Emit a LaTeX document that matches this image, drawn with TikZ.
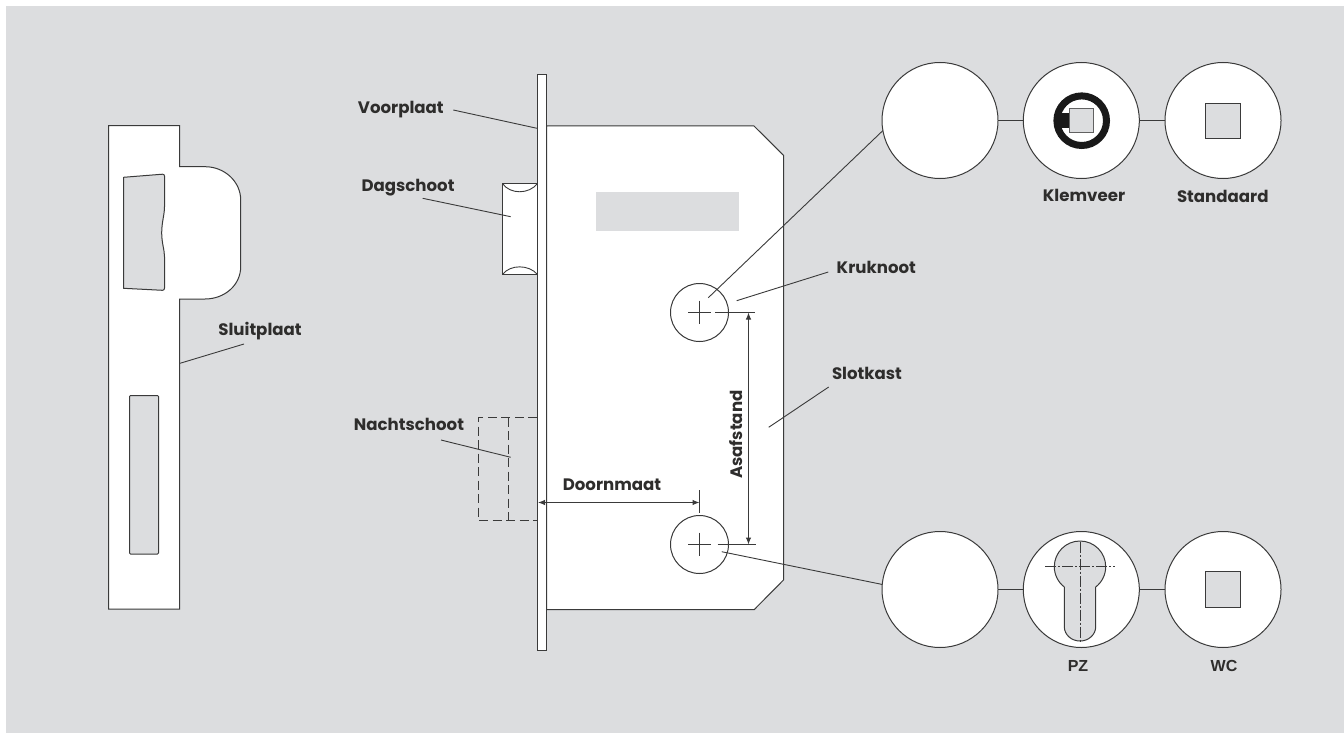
\documentclass[tikz,border=0pt]{standalone}
\usepackage{fontspec}
\setmainfont{Poppins}
\newfontfamily\pzfont{Liberation Sans}
\usetikzlibrary{arrows.meta}
\definecolor{bgc}{HTML}{DCDDDF}
\definecolor{ink}{HTML}{2E2D2C}
\definecolor{ln}{HTML}{3A3A3A}
\tikzset{
  part/.style={draw=ln,line width=1pt,fill=white,line join=miter},
  hollow/.style={draw=ln,line width=1pt,fill=bgc,line join=round},
  leader/.style={draw=ln,line width=0.9pt},
  thin line/.style={draw=ln,line width=0.9pt},
  dashline/.style={draw=ln,line width=1pt,dash pattern=on 9pt off 4.5pt},
  dim/.style={draw=ln,line width=1pt,{Latex[length=7pt,width=5.5pt]}-{Latex[length=7pt,width=5.5pt]}},
  rose/.style={circle,draw=ln,line width=1pt,fill=white,minimum size=116pt,inner sep=0pt,outer sep=0pt},
  hole/.style={circle,draw=ln,line width=1pt,fill=white,minimum size=58pt,inner sep=0pt,outer sep=0pt},
  lab/.style={text=ink,inner sep=0pt,anchor=base,font=\bfseries\fontsize{16.6}{16.6}\selectfont},
  lab2/.style={text=ink,inner sep=0pt,anchor=base,font=\pzfont\bfseries\fontsize{16}{16}\selectfont},
}
\begin{document}
\begin{tikzpicture}[x=1pt,y=-1pt]
\useasboundingbox (0,0) rectangle (1344,733);
\fill[white] (0,0) rectangle (1344,733);
\fill[bgc] (6,6) rectangle (1344,733);

% Sluitplaat
\draw[part] (108.5,125.7) -- (179.5,125.7) -- (179.5,166.7) -- (205,166.7)
  .. controls (224.7,166.7) and (240.7,181.7) .. (240.7,200) -- (240.7,266.7)
  .. controls (240.7,285) and (224.7,299) .. (205,299) -- (179.5,299) -- (179.5,609) -- (108.5,609) -- cycle;
\draw[hollow] (123.5,177.3) -- (162.5,174.2) .. controls (163.8,174.2) and (164.5,175) .. (164.5,176)
  -- (164.5,206.7) .. controls (164.5,215) and (161.7,222) .. (161.7,233)
  .. controls (161.7,243) and (164.5,250) .. (164.5,256.7) -- (164.5,288)
  .. controls (164.5,289.5) and (163.8,290.3) .. (162.5,290.3) -- (123.5,288.3) -- cycle;
\draw[hollow,rounded corners=1pt] (129.5,395.5) rectangle (158.5,554);

% Slotkast
\draw[part] (546.5,126) -- (754,126) -- (783.5,155.3) -- (783.5,580) -- (754.3,609.5) -- (546.5,609.5) -- cycle;
\fill[bgc] (596,192) rectangle (739,231);

% Dagschoot
\draw[part] (502.5,183.5) rectangle (537.5,274.5);
\draw[thin line] (502.5,183.5) .. controls (510,194.5) and (529,194.5) .. (537.5,183.5);
\draw[thin line] (502.5,274.5) .. controls (510,264.3) and (529,264.3) .. (537.5,274.5);

% Nachtschoot
\draw[dashline] (537,417.5) -- (478.5,417.5) -- (478.5,520.5) -- (537,520.5);
\draw[dashline] (508.5,417.5) -- (508.5,520.5);

% Voorplaat
\draw[part] (537.5,74.7) rectangle (546.5,650.7);

% Holes
\node[hole] (hu) at (699.5,312.5) {};
\node[hole] (hl) at (699.5,544.5) {};
\draw[thin line] (688,312.5) -- (711.3,312.5) (699.5,300.7) -- (699.5,324);
\draw[thin line] (715,312.5) -- (755,312.5);
\draw[thin line] (688,544.5) -- (711.3,544.5) (699.5,532.7) -- (699.5,556);
\draw[thin line] (717.7,544.5) -- (755.7,544.5);
\draw[thin line] (699.5,490) -- (699.5,513.3);

% Dimensions
\coordinate (dl) at (538,502.5);
\coordinate (dr) at (699.5,502.5);
\draw[dim] (dl) -- (dr);
\coordinate (at) at (748.5,312.5);
\coordinate (ab) at (748.5,544.5);
\draw[dim] (at) -- (ab);

% Roses
\node[rose] (r1) at (940,120.5) {};
\node[rose] (r2) at (1081.3,120.5) {};
\node[rose] (r3) at (1223,120.5) {};
\node[rose] (s1) at (940,589.5) {};
\node[rose] (s2) at (1081.3,589.5) {};
\node[rose] (s3) at (1223,589.5) {};
\draw[thin line] (r1) -- (r2);
\draw[thin line] (r2) -- (r3);
\draw[thin line] (s1) -- (s2);
\draw[thin line] (s2) -- (s3);

% Klemveer detail
\draw[draw=black!90,line width=7pt] (1081.7,120.7) circle[radius=24.8pt];
\fill[black!90] (1055,113.3) rectangle (1069.3,128.3);
\draw[draw=ln!80,line width=1pt,fill=bgc] (1069.5,109) rectangle (1093.5,132.7);
% Standaard, WC
\draw[draw=ln,line width=1pt,fill=bgc] (1205.5,103.5) rectangle (1240.5,138.5);
\draw[draw=ln,line width=1pt,fill=bgc] (1205.5,571.5) rectangle (1240.5,607.5);
% PZ keyhole
\draw[hollow] (1064.3,587) .. controls (1058.03,582.15) and (1054.3,574.64) .. (1054.3,566.7)
  .. controls (1054.3,552.5) and (1065.8,541) .. (1080,541)
  .. controls (1094.2,541) and (1105.7,552.5) .. (1105.7,566.7)
  .. controls (1105.7,574.64) and (1101.97,582.15) .. (1095.7,587)
  -- (1095.7,626.7) .. controls (1095.7,634.6) and (1088.7,641) .. (1080,641)
  .. controls (1071.3,641) and (1064.3,634.6) .. (1064.3,626.7) -- cycle;
\draw[thin line,dash pattern=on 11pt off 2pt on 2pt off 2pt] (1045.3,566.7) -- (1115,566.7);
\draw[thin line,dash pattern=on 11pt off 2pt on 2pt off 2pt] (1080,541.7) -- (1080,641.7);

% Labels
\node[lab] (lvoor) at (400.8,114) {Voorplaat};
\node[lab] (ldag) at (408,191.7) {Dagschoot};
\node[lab] (lnacht) at (409,430) {Nachtschoot};
\node[lab] (lsluit) at (260,335) {Sluitplaat};
\node[lab] (lkruk) at (876.3,273.3) {Kruknoot};
\node[lab] (lslot) at (867,379.3) {Slotkast};
\node[lab] (ldoorn) at (612,490) {Doornmaat};
\node[lab,rotate=90] (lasaf) at (742.7,434.7) {Asafstand};
\node[lab] (lklem) at (1084,201.7) {Klemveer};
\node[lab] (lstan) at (1222.8,202.7) {Standaard};
\node[lab2] (lpz) at (1078,671) {PZ};
\node[lab2] (lwc) at (1224,671) {WC};

% Leaders
\coordinate (a1) at (453.3,110);   \coordinate (a2) at (537,128.3);
\coordinate (b1) at (422.7,198.3); \coordinate (b2) at (510.7,216.7);
\coordinate (c1) at (441,440);     \coordinate (c2) at (510.7,457.3);
\coordinate (d1) at (180,363.3);   \coordinate (d2) at (244,344);
\coordinate (e1) at (736.7,300.7); \coordinate (e2) at (828.3,272);
\coordinate (f1) at (768.7,427.3); \coordinate (f2) at (828.7,387);
\coordinate (g1) at (708.3,297.7);
\coordinate (h1) at (721.7,551.7);
\draw[leader] (a1) -- (a2);
\draw[leader] (b1) -- (b2);
\draw[leader] (c1) -- (c2);
\draw[leader] (d1) -- (d2);
\draw[leader] (e1) -- (e2);
\draw[leader] (f1) -- (f2);
\draw[leader] (g1) -- (r1.190);
\draw[leader] (h1) -- (s1.175);
\end{tikzpicture}
\end{document}
